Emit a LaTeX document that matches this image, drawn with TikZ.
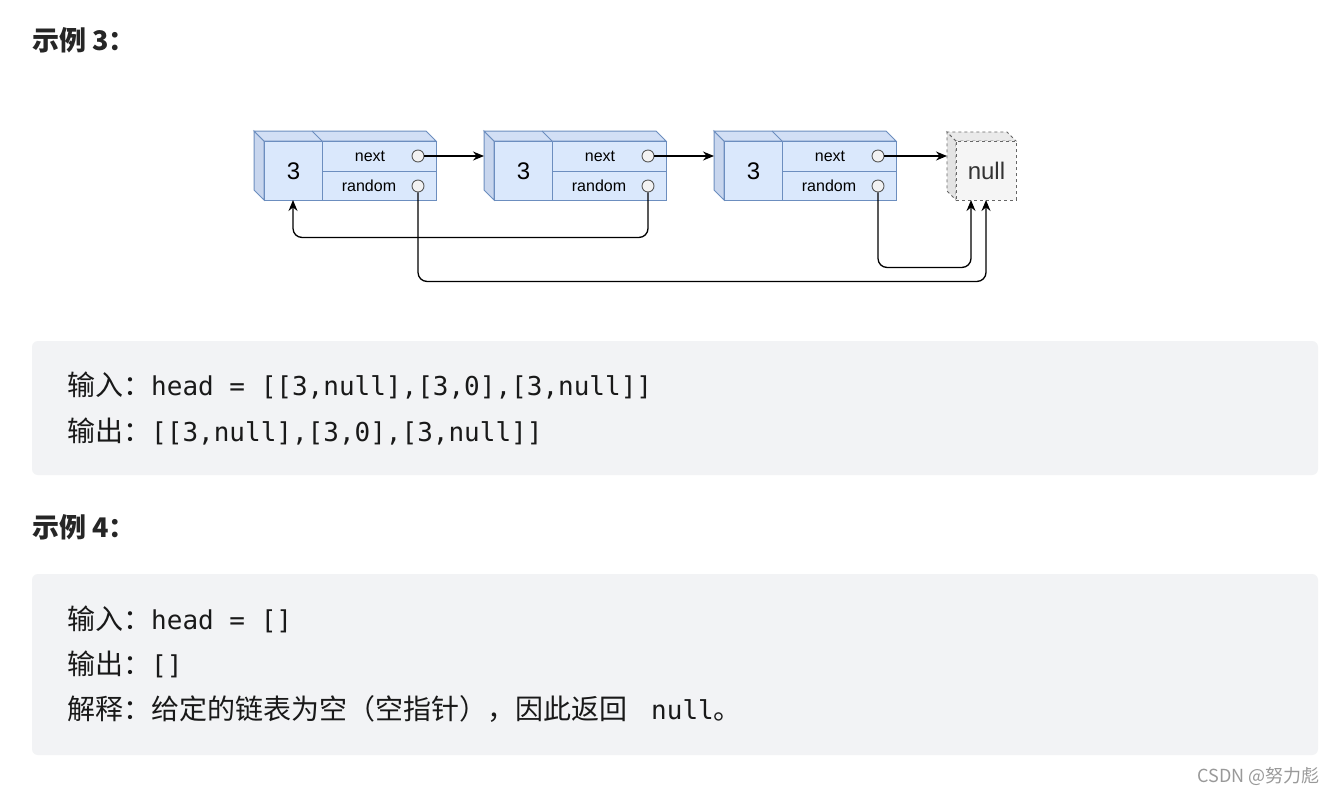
\documentclass[tikz,border=0pt]{standalone}
\usepackage{fontspec}
\setmainfont{Noto Sans CJK SC}
\setmonofont{DejaVu Sans Mono}
\newfontfamily\nodefont{Liberation Sans}
\usetikzlibrary{arrows.meta}

\definecolor{nodefill}{HTML}{DAE8FC}
\definecolor{nodeline}{HTML}{6C8EBF}
\definecolor{nodetop}{HTML}{D2DFF5}
\definecolor{nodeside}{HTML}{C8D6EE}
\definecolor{nullfill}{HTML}{F5F5F5}
\definecolor{nullside}{HTML}{E3E3E3}
\definecolor{nullline}{HTML}{666666}
\definecolor{codebg}{HTML}{F2F3F5}
\definecolor{marktext}{HTML}{999999}

\newcommand{\code}[1]{{\ttfamily\fontsize{26}{30}\selectfont #1}}

\begin{document}
\begin{tikzpicture}[x=1pt,y=-1pt,
    cellbox/.style={draw=nodeline, fill=nodefill, line width=1pt, inner sep=0pt, anchor=north west},
    fieldtext/.style={inner sep=0pt, font=\nodefont\fontsize{16}{18}\selectfont},
    ptr/.style={circle, draw=black!65, fill=white!95!black, line width=0.9pt, minimum size=12pt, inner sep=0pt},
    linkarrow/.style={-{Stealth[length=11pt,width=9pt]}, line width=1.3pt, rounded corners=9pt},
    heading/.style={anchor=west, inner sep=0pt, font=\bfseries\fontsize{27}{32}\selectfont, text=black!85},
    codeline/.style={anchor=west, inner sep=0pt, font=\fontsize{28}{34}\selectfont, text=black!90}]
    \useasboundingbox[fill=white] (0,0) rectangle (1336,796);

    % example 3 title
    \node[heading] (ex3) at (32,40) {示例 3：};

    % the three list nodes
    \foreach \i/\x in {1/264,2/494,3/724}{
        \filldraw[fill=nodeside, draw=nodeline, line width=1pt] (\x,141) -- (\x-10,131) -- (\x-10,190) -- (\x,200) -- cycle;
        \filldraw[fill=nodetop, draw=nodeline, line width=1pt] (\x,141) -- (\x-10,131) -- (\x+162,131) -- (\x+172,141) -- cycle;
        \draw[nodeline, line width=1pt] (\x+58,141) -- (\x+48,131);
        \node[cellbox, minimum width=58pt, minimum height=59pt, font=\nodefont\fontsize{24}{28}\selectfont] (n\i val) at (\x,141) {3};
        \node[cellbox, minimum width=114pt, minimum height=29.5pt] (n\i next) at (\x+58,141) {};
        \node[cellbox, minimum width=114pt, minimum height=29.5pt] (n\i rand) at (\x+58,170.5) {};
        \node[fieldtext] (n\i nt) at (\x+106,156) {next};
        \node[fieldtext] (n\i rt) at (\x+105,186) {random};
        \node[ptr] (n\i nc) at (\x+154,156) {};
        \node[ptr] (n\i rc) at (\x+154,186) {};
        \coordinate (n\i in) at (\x-10,156);
        \coordinate (n\i bot) at (\x+29,200);
    }

    % null box
    \filldraw[fill=nullside, draw=nullline, dashed, line width=0.9pt] (956,141) -- (947,132) -- (947,191) -- (956,200) -- cycle;
    \filldraw[fill=nullside!60!nullfill, draw=nullline, dashed, line width=0.9pt] (956,141) -- (947,132) -- (1007,132) -- (1016,141) -- cycle;
    \node[draw=nullline, fill=nullfill, dashed, line width=0.9pt, minimum width=60pt, minimum height=59pt, inner sep=0pt, anchor=north west, font=\nodefont\fontsize{24}{28}\selectfont, text=black!80] (null) at (956,141) {null};
    \coordinate (nullin) at (947,156);
    \coordinate (nullbotA) at (971,200);
    \coordinate (nullbotB) at (986,200);

    % next pointers
    \draw[linkarrow] (n1nc) -- (n2in);
    \draw[linkarrow] (n2nc) -- (n3in);
    \draw[linkarrow] (n3nc) -- (nullin);

    % random pointers
    \draw[linkarrow] (n2rc.south) -- ++(0,45) -| (n1bot);
    \draw[linkarrow] (n3rc.south) -- ++(0,75) -| (nullbotA);
    \draw[linkarrow] (n1rc.south) -- ++(0,89) -| (nullbotB);

    % example 3 code block
    \fill[codebg, rounded corners=6pt] (32,341) rectangle (1318,475);
    \node[codeline] (in3) at (67,386) {输入：\code{head = [[3,null],[3,0],[3,null]]}};
    \node[codeline] (out3) at (67,432) {输出：\code{[[3,null],[3,0],[3,null]]}};

    % example 4
    \node[heading] (ex4) at (32,527) {示例 4：};
    \fill[codebg, rounded corners=6pt] (32,574) rectangle (1318,755);
    \node[codeline] (in4) at (67,619) {输入：\code{head = []}};
    \node[codeline] (out4) at (67,664) {输出：\code{[]}};
    \node[codeline] (why4) at (67,709) {解释：给定的链表为空（空指针），因此返回\hspace{24pt}\code{null}。};

    % watermark
    \node[anchor=east, inner sep=0pt, text=marktext, font=\fontsize{18}{21}\selectfont] (mark) at (1320,776) {CSDN @努力彪};
\end{tikzpicture}
\end{document}
